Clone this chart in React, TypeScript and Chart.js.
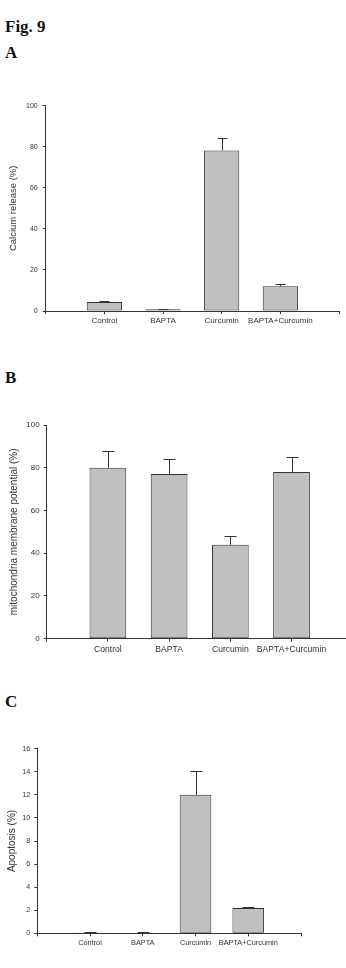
import React, { useEffect, useRef } from "react";
import { Chart, registerables } from "chart.js";

Chart.register(...registerables);

// Treatment groups shared by all three panels
const categories = ["Control", "BAPTA", "Curcumin", "BAPTA+Curcumin"];

// Panel A: calcium release (%)
const calciumMean = [4.4, 0.8, 78.2, 12.0];
const calciumErr = [0.6, 0.3, 5.9, 1.0];

// Panel B: mitochondria membrane potential (%)
const mmpMean = [80.0, 77.1, 44.0, 78.0];
const mmpErr = [7.7, 6.8, 3.9, 7.0];

// Panel C: apoptosis (%)
const apoptosisMean = [0.08, 0.05, 12.0, 2.2];
const apoptosisErr = [0.05, 0.02, 2.1, 0.1];

const INK = "#333333";
const BAR_FILL = "#c0c0c0";
const SANS = "'Liberation Sans', Arial, sans-serif";

type PanelSpec = {
  top: number;
  height: number;
  mean: number[];
  err: number[];
  yTitle: string;
  yMax: number;
  yStep: number;
  xMax: number;
  yWidth: number;
  xHeight: number;
  padTop: number;
  padRight: number;
  tickFont: number;
  labelFont: number;
  titleFont: number;
  titlePad: number;
  yTickPad: number;
  xTickPad: number;
  capHalf: number;
};

// Upward-only error bars with a short horizontal cap
const errorBars = {
  id: "errorBars",
  afterDatasetsDraw(chart: any, _args: any, opts: any) {
    const { ctx } = chart;
    const yScale = chart.scales.y;
    const meta = chart.getDatasetMeta(0);
    const errs: number[] = opts.errors || [];
    const half: number = opts.capHalf || 5;
    ctx.save();
    ctx.strokeStyle = INK;
    ctx.lineWidth = 1;
    meta.data.forEach((bar: any, i: number) => {
      const raw = chart.data.datasets[0].data[i];
      const topVal = raw.y + errs[i];
      const yTop = yScale.getPixelForValue(topVal);
      const x = Math.round(bar.x) + 0.5;
      const yt = Math.round(yTop) + 0.5;
      ctx.beginPath();
      ctx.moveTo(x, bar.y);
      ctx.lineTo(x, yt);
      ctx.moveTo(x - half, yt);
      ctx.lineTo(x + half, yt);
      ctx.stroke();
    });
    ctx.restore();
  },
};

function BarPanel({ spec }: { spec: PanelSpec }) {
  const ref = useRef<HTMLCanvasElement | null>(null);

  useEffect(() => {
    if (!ref.current) return;
    const s = spec;
    const chart = new Chart(ref.current, {
      type: "bar",
      data: {
        datasets: [
          {
            data: categories.map((_, i) => ({ x: i + 1, y: s.mean[i] })),
            backgroundColor: BAR_FILL,
            borderColor: INK,
            borderWidth: 1,
            borderSkipped: false,
            barPercentage: 0.6,
            categoryPercentage: 1,
          } as any,
        ],
      },
      options: {
        animation: false,
        responsive: false,
        maintainAspectRatio: false,
        layout: { padding: { top: s.padTop, right: s.padRight, left: 0, bottom: 0 } },
        plugins: {
          legend: { display: false },
          tooltip: { enabled: false },
          errorBars: { errors: s.err, capHalf: s.capHalf },
        } as any,
        scales: {
          x: {
            type: "linear",
            min: 0,
            max: s.xMax,
            offset: false,
            afterBuildTicks: (scale: any) => {
              scale.ticks = scale.ticks.filter((t: any) => Number.isInteger(t.value));
            },
            afterFit: (scale: any) => {
              scale.height = s.xHeight;
            },
            ticks: {
              stepSize: 1,
              autoSkip: false,
              maxRotation: 0,
              padding: s.xTickPad,
              color: INK,
              font: { family: SANS, size: s.labelFont },
              callback: (v: any) => {
                const i = Number(v) - 1;
                return i >= 0 && i < categories.length ? categories[i] : "";
              },
            },
            grid: {
              display: true,
              offset: false,
              drawOnChartArea: false,
              drawTicks: true,
              tickLength: 3,
              color: INK,
            },
            border: { display: true, color: INK, width: 1 },
          } as any,
          y: {
            type: "linear",
            min: 0,
            max: s.yMax,
            afterFit: (scale: any) => {
              scale.width = s.yWidth;
            },
            ticks: {
              stepSize: s.yStep,
              padding: s.yTickPad,
              color: INK,
              font: { family: SANS, size: s.tickFont },
            },
            grid: {
              display: true,
              drawOnChartArea: false,
              drawTicks: true,
              tickLength: 3,
              color: INK,
            },
            border: { display: true, color: INK, width: 1 },
            title: {
              display: true,
              text: s.yTitle,
              color: INK,
              font: { family: SANS, size: s.titleFont },
              padding: { top: s.titlePad, bottom: 0 },
            },
          },
        },
      },
      plugins: [errorBars],
    });
    return () => chart.destroy();
  }, [spec]);

  return (
    <canvas
      ref={ref}
      width={346}
      height={spec.height}
      style={{ position: "absolute", left: 0, top: spec.top, width: 346, height: spec.height }}
    />
  );
}

const panelA: PanelSpec = {
  top: 90, height: 250, mean: calciumMean, err: calciumErr,
  yTitle: "Calcium release (%)", yMax: 100, yStep: 20, xMax: 5,
  yWidth: 45.7, xHeight: 29, padTop: 15.7, padRight: 7,
  tickFont: 7, labelFont: 8, titleFont: 9.5, titlePad: 8, yTickPad: 5, xTickPad: 2, capHalf: 5,
};

const panelB: PanelSpec = {
  top: 400, height: 268, mean: mmpMean, err: mmpErr,
  yTitle: "mitochondria membrane potential (%)", yMax: 100, yStep: 20, xMax: 4.89,
  yWidth: 46.7, xHeight: 29.3, padTop: 25, padRight: 0,
  tickFont: 8, labelFont: 8.6, titleFont: 10, titlePad: 8.5, yTickPad: 4, xTickPad: 3, capHalf: 6,
};

const panelC: PanelSpec = {
  top: 720, height: 248, mean: apoptosisMean, err: apoptosisErr,
  yTitle: "Apoptosis (%)", yMax: 16, yStep: 2, xMax: 5,
  yWidth: 37.3, xHeight: 34.7, padTop: 28.7, padRight: 45,
  tickFont: 7.2, labelFont: 7.3, titleFont: 10, titlePad: 6.5, yTickPad: 4, xTickPad: 2, capHalf: 6,
};

const headingStyle: React.CSSProperties = {
  position: "absolute",
  left: 5,
  margin: 0,
  fontFamily: "'Liberation Serif', 'Times New Roman', serif",
  fontWeight: "bold",
  fontSize: 17,
  lineHeight: "17px",
  color: "#111",
};

export default function App() {
  return (
    <div style={{ position: "absolute", left: 0, top: 0, width: 346, height: 968, background: "#fff", overflow: "hidden" }}>
      <div style={{ ...headingStyle, top: 17.5 }}>Fig. 9</div>
      <div style={{ ...headingStyle, top: 44 }}>A</div>
      <BarPanel spec={panelA} />
      <div style={{ ...headingStyle, top: 369 }}>B</div>
      <BarPanel spec={panelB} />
      <div style={{ ...headingStyle, top: 693 }}>C</div>
      <BarPanel spec={panelC} />
    </div>
  );
}
